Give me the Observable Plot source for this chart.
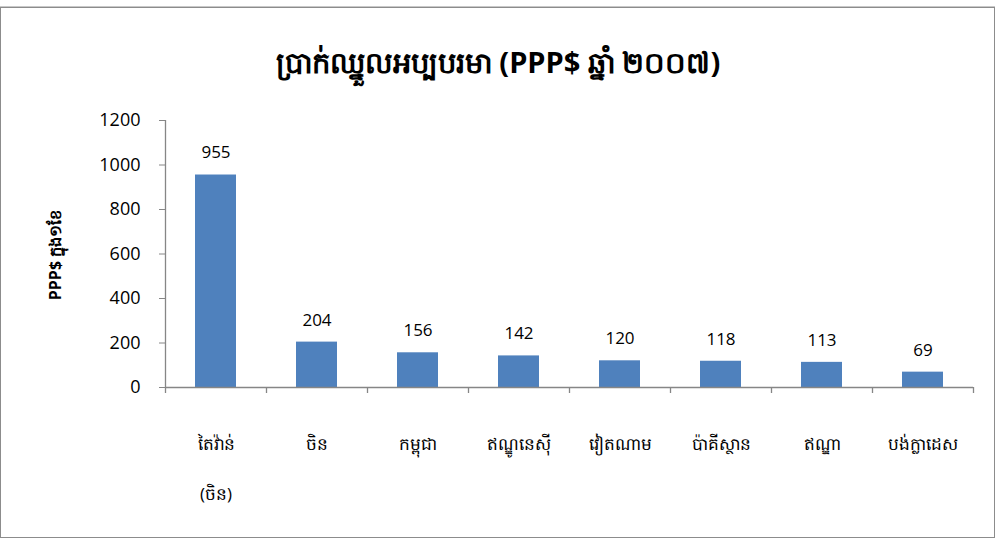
<!DOCTYPE html>
<html>
<head>
<meta charset="utf-8">
<script src="https://cdn.jsdelivr.net/npm/d3@7"></script>
<script src="https://cdn.jsdelivr.net/npm/@observablehq/plot@0.6"></script>
<style>
  body { margin: 0; background: #fff; font-family: "Open Sans", "Noto Sans", sans-serif; }
  #frame { position: absolute; left: 0; top: 7px; width: 993px; height: 529px; border: 1px solid #8c8c8c; box-shadow: 0 -1px 0 #c8c8c8; }
  #title { position: absolute; left: 0; width: 996px; top: 42px; text-align: center; font-size: 29px; font-weight: bold; color: #000; }
  #chart { position: absolute; left: 0; top: 100px; }
  #ylabel { position: absolute; left: 56px; top: 255px; transform: translate(-50%, -50%) rotate(-90deg); font-size: 16px; font-weight: bold; white-space: nowrap; }
</style>
</head>
<body>
<div id="frame"></div>
<div id="title">ប្រាក់ឈ្នួលអប្បបរមា (PPP$  ឆ្នាំ ២០០៧)</div>
<div id="ylabel">PPP$ ក្នុង១ខែ</div>
<div id="chart"></div>
<script>
const categories = ["តៃវ៉ាន់\n(ចិន)", "ចិន", "កម្ពុជា", "ឥណ្ឌូនេស៊ី", "វៀតណាម", "ប៉ាគីស្ថាន", "ឥណ្ឌា", "បង់ក្លាដេស"];
const values = [955, 204, 156, 142, 120, 118, 113, 69];
const yTicks = [0, 200, 400, 600, 800, 1000, 1200];

const data = categories.map((c, i) => ({cat: c, v: values[i]}));
const step = (973 - 165) / categories.length;
const axisColor = "#868686";

const chart = Plot.plot({
  width: 996,
  height: 420,
  marginLeft: 165,
  marginRight: 23,
  marginTop: 20,
  marginBottom: 133,
  style: {fontFamily: "'Open Sans', 'Noto Sans', sans-serif", fontSize: "17px", color: "#000", background: "transparent"},
  x: {domain: categories, paddingInner: 0.59, paddingOuter: 0.295, label: null},
  y: {domain: [0, 1200], ticks: yTicks, label: null},
  marks: [
    Plot.barY(data, {x: "cat", y: "v", fill: "#4f81bd"}),
    Plot.text(data, {x: "cat", y: "v", text: d => String(d.v), dy: -22, fontSize: 17, fill: "#000"}),
    Plot.ruleY([0], {stroke: axisColor, strokeWidth: 1.3}),
    Plot.ruleX([0], {x: () => categories[0], y1: 0, y2: 1200, dx: -step / 2, stroke: axisColor, strokeWidth: 1.3}),
    Plot.ruleX(categories, {x: d => d, y1: 0, y2: -27, dx: -step / 2, stroke: axisColor, strokeWidth: 1.3}),
    Plot.ruleX([categories[categories.length - 1]], {x: d => d, y1: 0, y2: -27, dx: step / 2, stroke: axisColor, strokeWidth: 1.3}),
    Plot.axisY({ticks: yTicks, tickSize: 6, tickPadding: 19, stroke: axisColor, fontSize: 18, tickFormat: d => String(d)}),
    Plot.axisX({tickSize: 0, tickPadding: 27, fontSize: 17, lineHeight: 2.95})
  ]
});
document.getElementById("chart").appendChild(chart);
</script>
</body>
</html>
